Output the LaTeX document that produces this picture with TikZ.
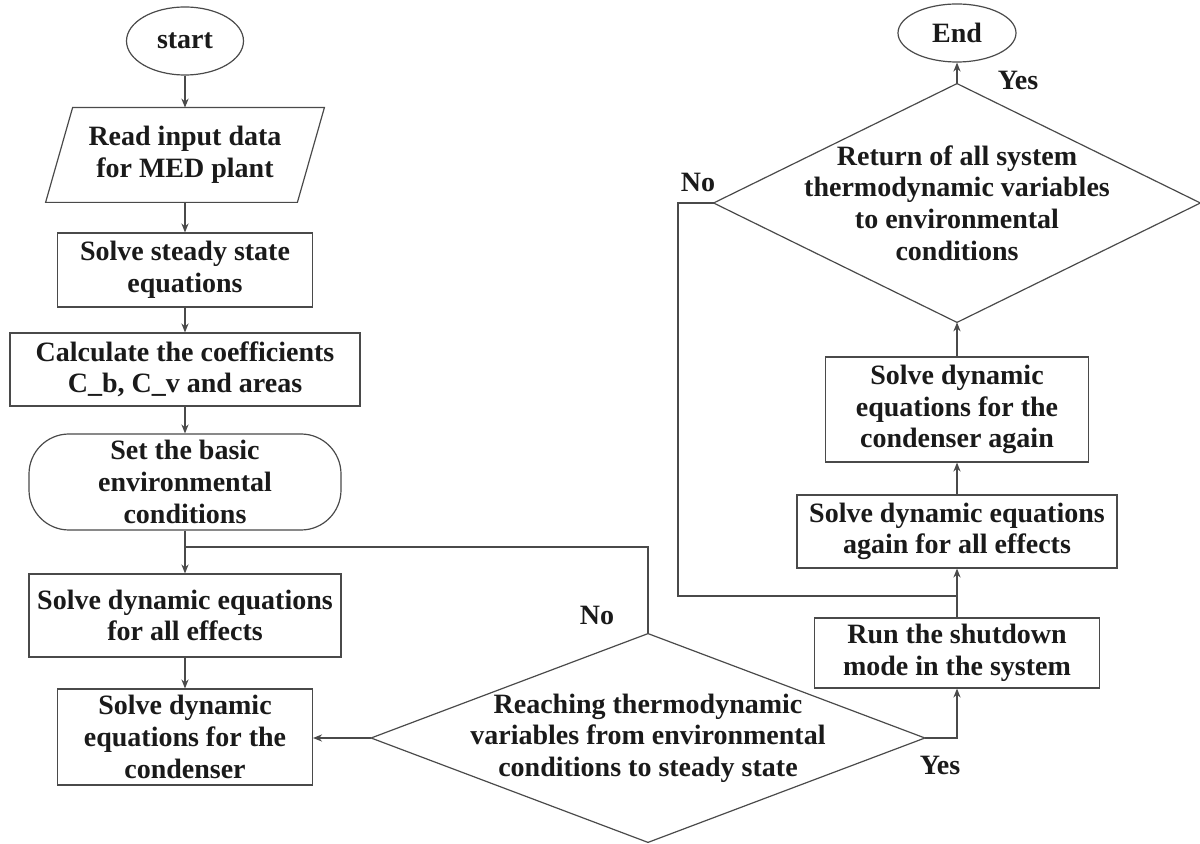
\documentclass[tikz,border=0pt]{standalone}
\usepackage{fontspec}
\setmainfont{Liberation Serif}
\usetikzlibrary{shapes.geometric,arrows.meta,calc}
\definecolor{ink}{HTML}{1A1A1A}
\definecolor{edge}{HTML}{4A4A4A}
\begin{document}
\begin{tikzpicture}[x=0.5pt,y=-0.5pt,
  every node/.style={font=\fontsize{14pt}{15.8pt}\selectfont\bfseries, text=ink, align=center, inner sep=0pt},
  boxnode/.style={draw=edge, line width=0.6pt, rectangle},
  termnode/.style={draw=edge, line width=0.6pt, ellipse},
  plainnode/.style={rectangle},
  outline/.style={draw=edge, line width=0.6pt},
  link/.style={draw=edge, line width=0.6pt},
  arr/.style={link, -{Stealth[length=4.5pt,width=3.6pt]}},
  lbl/.style={}
]
\useasboundingbox (0,0) rectangle (1200,844);
% left column
\node[termnode, minimum width=58.5pt, minimum height=34pt] (start) at (185,41) {start};
\node[plainnode, minimum width=139pt, minimum height=47pt] (read) at (185,155) {Read input data\\for MED plant};
\draw[outline] ($(read.north west)+(13.5pt,0)$) -- (read.north east) -- ($(read.south east)-(13.5pt,0)$) -- (read.south west) -- cycle;
\node[boxnode, minimum width=127.5pt, minimum height=37pt] (steady) at (185,270) {Solve steady state\\equations};
\node[boxnode, minimum width=175pt, minimum height=36.5pt] (calc) at (185,369.5) {Calculate the coefficients\\C\_b, C\_v and areas};
\node[boxnode, rounded corners=20pt, minimum width=156pt, minimum height=48pt] (setb) at (185,482) {Set the basic\\environmental\\conditions};
\node[boxnode, minimum width=156pt, minimum height=41.5pt] (effects) at (185,615.5) {Solve dynamic equations\\for all effects};
\node[boxnode, minimum width=127.5pt, minimum height=48pt] (cond) at (185,737) {Solve dynamic\\equations for the\\condenser};
% decision 1
\node[plainnode, minimum width=276.5pt, minimum height=104pt] (d1) at (648,738) {Reaching thermodynamic\\variables from environmental\\conditions to steady state};
\draw[outline] (d1.north) -- (d1.east) -- (d1.south) -- (d1.west) -- cycle;
% right column
\node[boxnode, minimum width=142.5pt, minimum height=35pt] (shut) at (957,653) {Run the shutdown\\mode in the system};
\node[boxnode, minimum width=160pt, minimum height=36.5pt] (again) at (957,531.5) {Solve dynamic equations\\again for all effects};
\node[boxnode, minimum width=131.5pt, minimum height=52.5pt] (condag) at (957,409.5) {Solve dynamic\\equations for the\\condenser again};
\node[plainnode, minimum width=243pt, minimum height=119pt] (d2) at (957,203) {Return of all system\\thermodynamic variables\\to environmental\\conditions};
\draw[outline] (d2.north) -- (d2.east) -- (d2.south) -- (d2.west) -- cycle;
\node[termnode, minimum width=59pt, minimum height=29pt] (end) at (957,33) {End};
% labels
\node[lbl] (no1) at (597,615) {No};
\node[lbl] (yes1) at (940,765) {Yes};
\node[lbl] (yes2) at (1018,80) {Yes};
\node[lbl] (no2) at (698,182) {No};
% junctions
\coordinate (j1) at (185,547);
\coordinate (k2) at (678,203);
\coordinate (j2) at (957,596);
% connectors
\draw[arr] (start) -- (read);
\draw[arr] (read) -- (steady);
\draw[arr] (steady) -- (calc);
\draw[arr] (calc) -- (setb);
\draw[arr] (setb) -- (effects);
\draw[link] (d1.north) -- (d1.north |- j1) -- (j1);
\draw[arr] (effects) -- (cond);
\draw[arr] (d1.west) -- (d1.west -| cond.east);
\draw[arr] (d1.east) -| (shut.south);
\draw[arr] (shut) -- (again);
\draw[link] (d2.west) -- (k2) |- (j2);
\draw[arr] (again) -- (condag);
\draw[arr] (condag) -- (d2.south);
\draw[arr] (d2.north) -- (end);
\end{tikzpicture}
\end{document}
